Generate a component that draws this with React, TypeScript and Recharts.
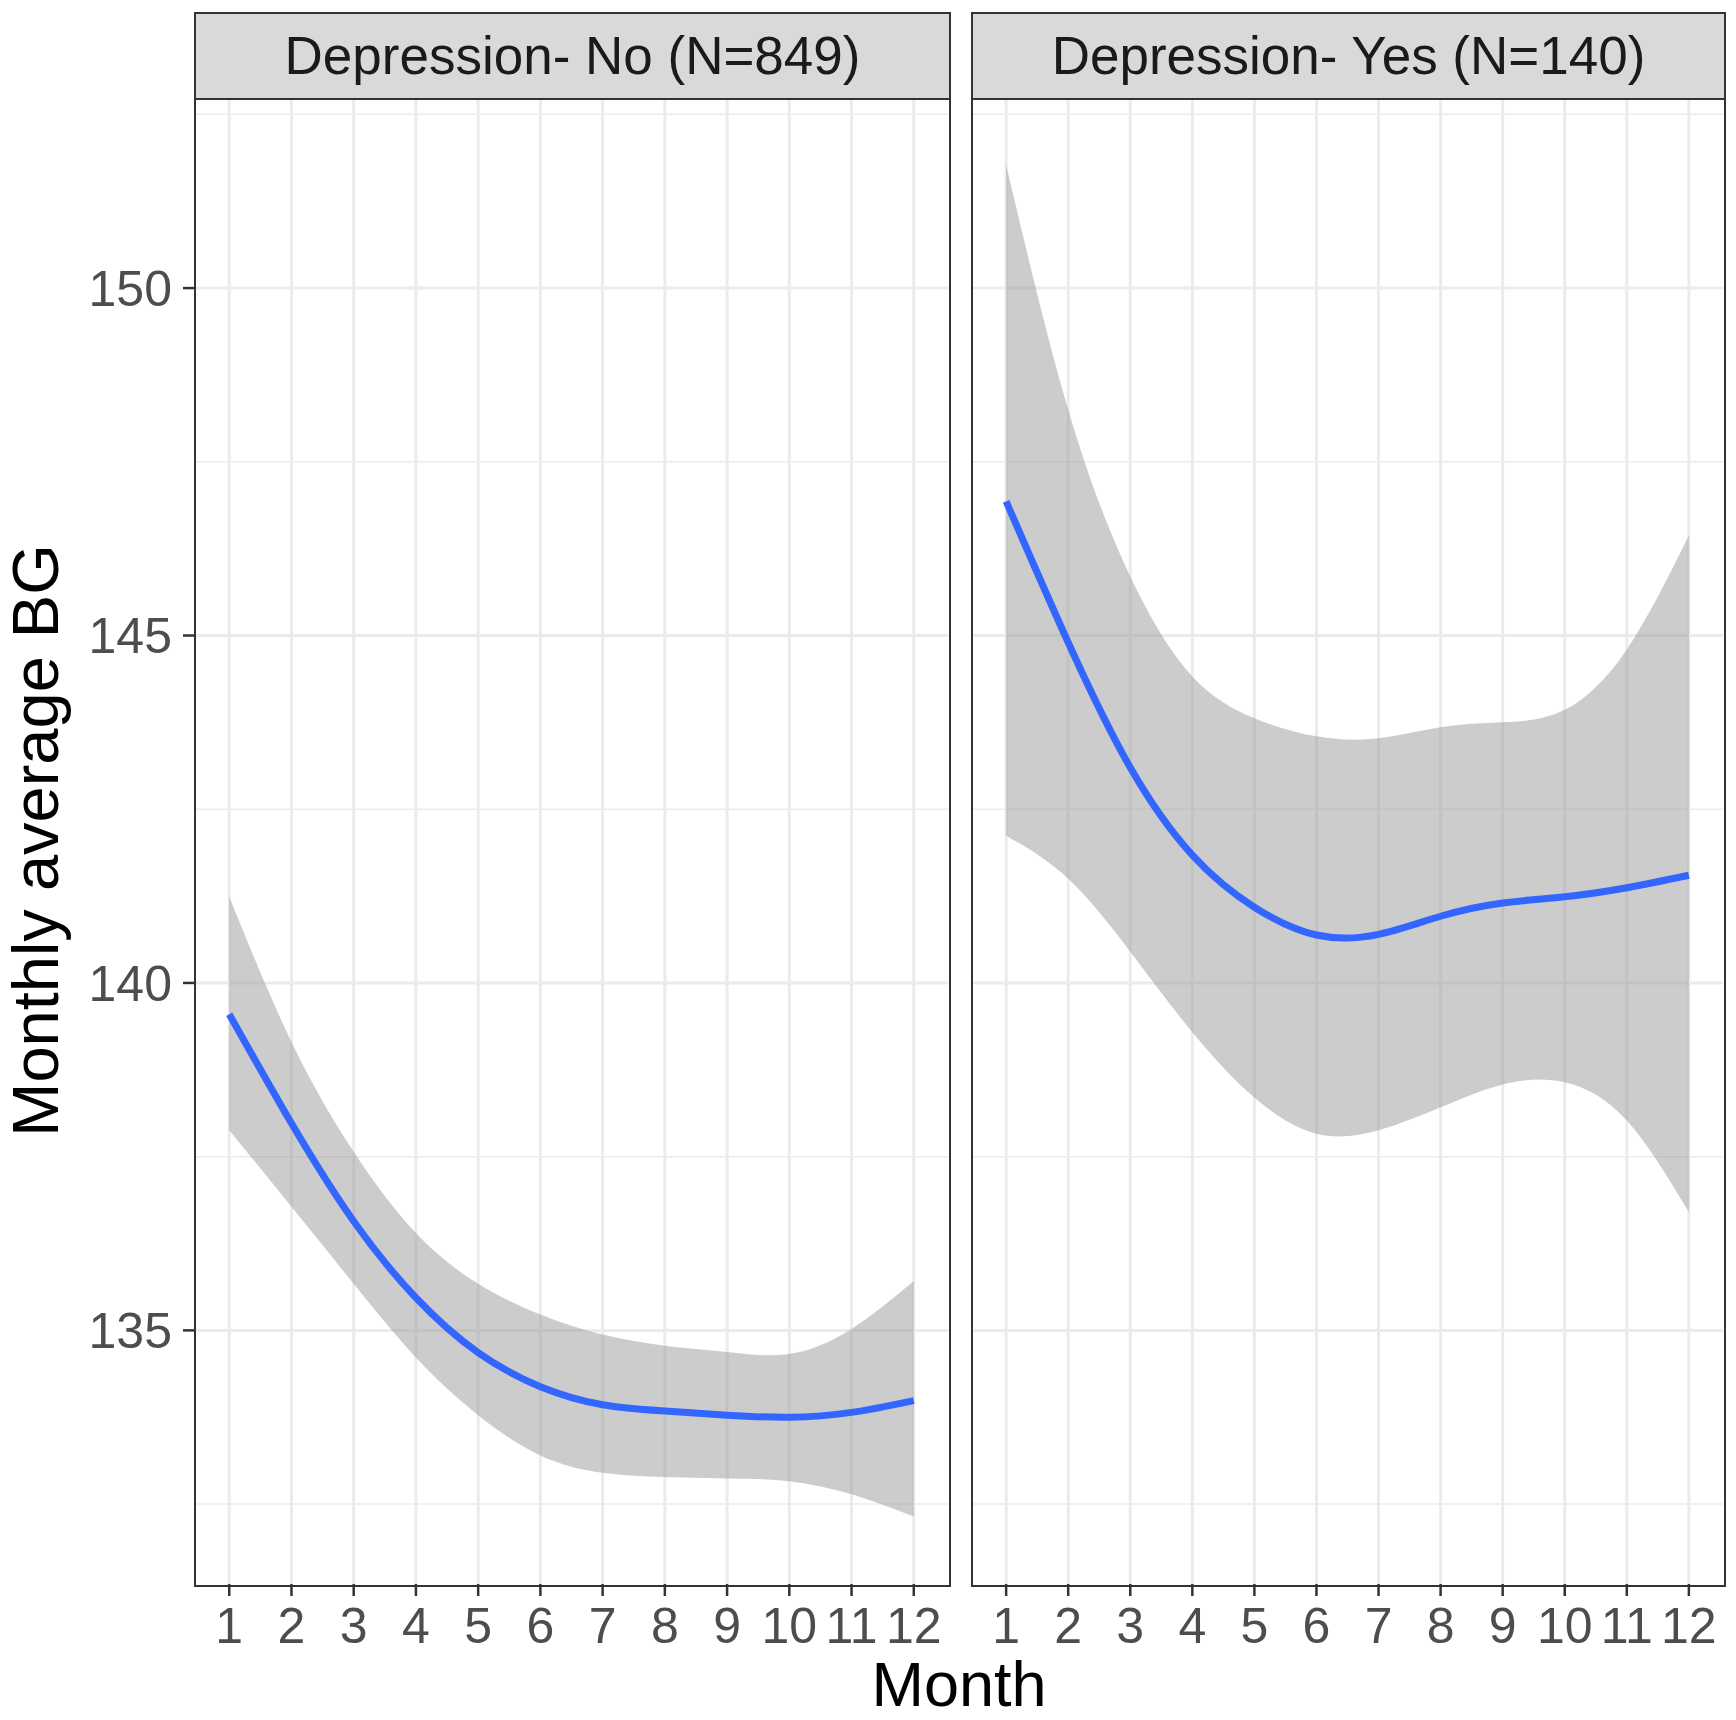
import { ComposedChart, Area, Line, XAxis, YAxis, CartesianGrid } from "recharts";

const MONTHS = [1, 2, 3, 4, 5, 6, 7, 8, 9, 10, 11, 12];

// Depression - No (N=849)
const NO_FIT = [139.55, 137.98, 136.57, 135.47, 134.68, 134.19, 133.93, 133.84, 133.78, 133.75, 133.82, 133.99];
const NO_LOW = [137.88, 136.78, 135.67, 134.61, 133.78, 133.2, 132.95, 132.89, 132.87, 132.83, 132.64, 132.32];
const NO_HIGH = [141.24, 139.15, 137.57, 136.4, 135.67, 135.23, 134.94, 134.78, 134.69, 134.66, 135.02, 135.71];

// Depression - Yes (N=140)
const YES_FIT = [146.93, 144.9, 143.1, 141.84, 141.09, 140.69, 140.7, 140.96, 141.15, 141.24, 141.37, 141.55];
const YES_LOW = [142.12, 141.5, 140.45, 139.29, 138.35, 137.83, 137.88, 138.21, 138.54, 138.57, 138.02, 136.7];
const YES_HIGH = [151.77, 148.25, 145.85, 144.41, 143.81, 143.55, 143.52, 143.68, 143.75, 143.93, 144.8, 146.44];

const PANELS = ["Depression- No (N=849)", "Depression- Yes (N=140)"];
const Y_TICKS = [135, 140, 145, 150];
const Y_MINOR = [132.5, 137.5, 142.5, 147.5, 152.5];

const X_DOMAIN: [number, number] = [0.45, 12.55];
const Y_DOMAIN: [number, number] = [131.35, 152.75];

const FONT = "'Liberation Sans', Arial, Helvetica, sans-serif";
const GRID = "#EBEBEB";
const FRAME = "#333333";

const buildRows = (fit: number[], low: number[], high: number[]) =>
  MONTHS.map((m, i) => ({ month: m, fit: fit[i], band: [low[i], high[i]] }));

const noRows = buildRows(NO_FIT, NO_LOW, NO_HIGH);
const yesRows = buildRows(YES_FIT, YES_LOW, YES_HIGH);

const TOP = 97;
const BOTTOM = 1584;

interface PanelProps {
  rows: { month: number; fit: number; band: number[] }[];
  title: string;
  left: number;
  width: number;
  plotLeft: number;
  plotRight: number;
  showY: boolean;
}

const Panel = ({ rows, title, left, width, plotLeft, plotRight, showY }: PanelProps) => {
  const ml = showY ? 0 : plotLeft - left;
  const mr = left + width - plotRight;
  return (
    <>
      <div style={{ position: "absolute", left, top: 0 }}>
        <ComposedChart
          width={width}
          height={1720}
          data={rows}
          margin={{ top: TOP, right: mr, bottom: 0, left: ml }}
        >
          <CartesianGrid
            horizontal
            vertical={false}
            horizontalValues={Y_MINOR}
            stroke={GRID}
            strokeWidth={1.5}
          />
          <CartesianGrid
            horizontalValues={Y_TICKS}
            verticalValues={MONTHS}
            stroke={GRID}
            strokeWidth={3}
          />
          <XAxis
            dataKey="month"
            type="number"
            domain={X_DOMAIN}
            allowDataOverflow
            ticks={MONTHS}
            interval={0}
            height={1720 - BOTTOM}
            axisLine={false}
            tickSize={12}
            tickMargin={11}
            tickLine={{ stroke: FRAME, strokeWidth: 2.5 }}
            tick={{ fill: "#4D4D4D", fontSize: 50, fontFamily: FONT }}
          />
          <YAxis
            type="number"
            domain={Y_DOMAIN}
            allowDataOverflow
            ticks={Y_TICKS}
            interval={0}
            hide={!showY}
            width={showY ? plotLeft - left : 0}
            axisLine={false}
            tickSize={12}
            tickMargin={11}
            tickLine={{ stroke: FRAME, strokeWidth: 2.5 }}
            tick={{ fill: "#4D4D4D", fontSize: 50, fontFamily: FONT }}
          />
          <Area
            type="natural"
            dataKey="band"
            stroke="none"
            fill="#999999"
            fillOpacity={0.5}
            isAnimationActive={false}
          />
          <Line
            type="natural"
            dataKey="fit"
            stroke="#3366FF"
            strokeWidth={7}
            dot={false}
            activeDot={false}
            isAnimationActive={false}
          />
        </ComposedChart>
      </div>
      <div
        style={{
          position: "absolute",
          left: plotLeft - 1,
          top: TOP - 1,
          width: plotRight - plotLeft,
          height: BOTTOM - TOP,
          border: `2px solid ${FRAME}`,
          pointerEvents: "none",
        }}
      />
      <div
        style={{
          position: "absolute",
          left: plotLeft - 1,
          top: 12,
          width: plotRight - plotLeft,
          height: TOP - 13,
          border: `2px solid ${FRAME}`,
          background: "#D9D9D9",
          color: "#1A1A1A",
          fontFamily: FONT,
          fontSize: 53,
          lineHeight: `${TOP - 13}px`,
          textAlign: "center",
          whiteSpace: "nowrap",
        }}
      >
        {title}
      </div>
    </>
  );
};

export default function App() {
  return (
    <div
      style={{
        position: "absolute",
        left: 0,
        top: 0,
        width: 1736,
        height: 1720,
        background: "#FFFFFF",
        overflow: "hidden",
      }}
    >
      <Panel rows={noRows} title={PANELS[0]} left={0} width={960} plotLeft={195} plotRight={948} showY />
      <Panel rows={yesRows} title={PANELS[1]} left={960} width={776} plotLeft={972} plotRight={1723} showY={false} />
      <svg
        width={1736}
        height={1720}
        style={{ position: "absolute", left: 0, top: 0, pointerEvents: "none" }}
      >
        <text
          x={58}
          y={(TOP + BOTTOM) / 2}
          transform={`rotate(-90 58 ${(TOP + BOTTOM) / 2})`}
          textAnchor="middle"
          fontFamily={FONT}
          fontSize={65}
          fill="#000000"
        >
          Monthly average BG
        </text>
        <text x={959} y={1706} textAnchor="middle" fontFamily={FONT} fontSize={63} fill="#000000">
          Month
        </text>
      </svg>
    </div>
  );
}
